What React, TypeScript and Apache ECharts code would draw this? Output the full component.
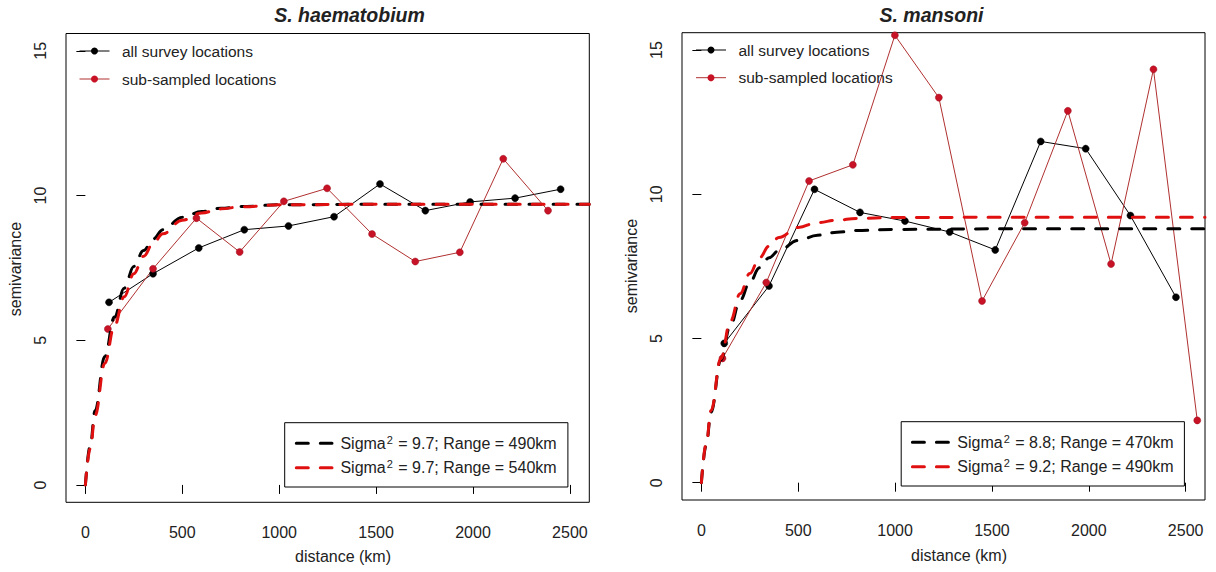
import React, { useEffect, useRef } from "react";
import * as echarts from "echarts";

// ---------- data ----------
const X_TICKS = [0, 500, 1000, 1500, 2000, 2500];
const Y_TICKS = [0, 5, 10, 15];

// S. haematobium – empirical semivariograms
const haemAllDist = [122, 349, 585, 820, 1048, 1283, 1520, 1754, 1985, 2217, 2452];
const haemAllGamma = [6.31, 7.3, 8.19, 8.82, 8.95, 9.27, 10.4, 9.48, 9.78, 9.91, 10.22];
const haemSubDist = [116, 349, 573, 796, 1024, 1247, 1479, 1702, 1932, 2156, 2387];
const haemSubGamma = [5.39, 7.47, 9.22, 8.05, 9.8, 10.25, 8.67, 7.72, 8.04, 11.27, 9.48];

// S. haematobium – fitted model curves
const haemFitAllDist = [0, 25, 50, 100, 150, 200, 250, 300, 350, 400, 500, 600, 700, 800, 1000, 1500, 2600];
const haemFitAllGamma = [0, 1.35, 2.56, 4.44, 5.8, 6.8, 7.55, 8.1, 8.5, 8.82, 9.25, 9.45, 9.56, 9.62, 9.68, 9.7, 9.7];
const haemFitSubDist = [0, 25, 50, 100, 150, 200, 250, 300, 350, 400, 500, 600, 700, 800, 1000, 1500, 2600];
const haemFitSubGamma = [0, 1.25, 2.4, 4.2, 5.5, 6.5, 7.3, 7.9, 8.35, 8.68, 9.15, 9.4, 9.54, 9.61, 9.68, 9.7, 9.7];

// S. mansoni – empirical semivariograms
const manAllDist = [118, 349, 584, 819, 1051, 1282, 1517, 1752, 1984, 2215, 2450];
const manAllGamma = [4.83, 6.82, 10.17, 9.37, 9.07, 8.69, 8.07, 11.83, 11.58, 9.26, 6.43];
const manSubDist = [109, 335, 556, 782, 999, 1226, 1449, 1669, 1892, 2115, 2334, 2560];
const manSubGamma = [4.31, 6.94, 10.46, 11.02, 15.51, 13.35, 6.3, 9.01, 12.89, 7.58, 14.33, 2.16];

// S. mansoni – fitted model curves
const manFitAllDist = [0, 25, 50, 100, 150, 200, 250, 300, 350, 400, 500, 600, 700, 800, 1000, 1500, 2600];
const manFitAllGamma = [0, 1.3, 2.45, 4.25, 5.45, 6.32, 6.95, 7.45, 7.8, 8.05, 8.4, 8.58, 8.68, 8.74, 8.78, 8.8, 8.8];
const manFitSubDist = [0, 25, 50, 100, 150, 200, 250, 300, 350, 400, 500, 600, 700, 800, 1000, 1500, 2600];
const manFitSubGamma = [0, 1.35, 2.5, 4.3, 5.6, 6.55, 7.25, 7.8, 8.2, 8.5, 8.85, 9.02, 9.1, 9.16, 9.19, 9.2, 9.2];

const panelTitles = ["S. haematobium", "S. mansoni"];
const pointLegend = ["all survey locations", "sub-sampled locations"];
const haemFitLabels = [
  { sigma: "9.7", range: "490km" },
  { sigma: "9.7", range: "540km" },
];
const manFitLabels = [
  { sigma: "8.8", range: "470km" },
  { sigma: "9.2", range: "490km" },
];

// ---------- styling ----------
const FONT = "'Liberation Sans', Arial, Helvetica, sans-serif";
const TEXT = "#222";
const BLACK = "#000";
const RED_PT = "#c81226";
const RED_LINE = "#b03030";
const RED_DASH = "#e01010";

const zip = (xs: number[], ys: number[]) => xs.map((x, i) => [x, ys[i]]);

function xAxisFor(gridIndex: number) {
  return {
    gridIndex,
    type: "value",
    min: -100,
    max: 2600,
    axisLine: { show: false },
    splitLine: { show: false },
    axisTick: {
      show: true,
      length: 9,
      customValues: X_TICKS,
      lineStyle: { color: BLACK, width: 1 },
    },
    axisLabel: {
      customValues: X_TICKS,
      formatter: (v: number) => String(v),
      fontSize: 16,
      fontFamily: FONT,
      color: TEXT,
      margin: 22,
    },
  };
}

function yAxisFor(gridIndex: number) {
  return {
    gridIndex,
    type: "value",
    min: -0.6,
    max: 15.6,
    axisLine: { show: false },
    splitLine: { show: false },
    axisTick: {
      show: true,
      length: 9,
      customValues: Y_TICKS,
      lineStyle: { color: BLACK, width: 1 },
    },
    axisLabel: {
      customValues: Y_TICKS,
      formatter: (v: number) => String(v),
      rotate: 90,
      fontSize: 16,
      fontFamily: FONT,
      color: TEXT,
      margin: 18,
    },
  };
}

function pointSeries(idx: number, name: string, xs: number[], ys: number[], isRed: boolean) {
  return {
    name,
    type: "line",
    xAxisIndex: idx,
    yAxisIndex: idx,
    data: zip(xs, ys),
    symbol: "circle",
    symbolSize: 7,
    showSymbol: true,
    lineStyle: { color: isRed ? RED_LINE : BLACK, width: 1 },
    itemStyle: { color: isRed ? RED_PT : BLACK, borderColor: isRed ? "#9a1020" : BLACK, borderWidth: 0.5 },
    z: 2,
  };
}

function fitSeries(idx: number, name: string, xs: number[], ys: number[], isRed: boolean) {
  return {
    name,
    type: "line",
    xAxisIndex: idx,
    yAxisIndex: idx,
    data: zip(xs, ys),
    showSymbol: false,
    smooth: 0.4,
    smoothMonotone: "x",
    lineStyle: { color: isRed ? RED_DASH : BLACK, width: 3, type: [12, 12], cap: "round" },
    z: 3,
  };
}

function pointLegendGraphics(lineX1: number, lineX2: number, textX: number, ys: number[]) {
  const out: any[] = [];
  [BLACK, RED_PT].forEach((c, i) => {
    const y = ys[i];
    out.push({
      type: "line",
      z: 100,
      shape: { x1: lineX1, y1: y, x2: lineX2, y2: y },
      style: { stroke: i === 0 ? BLACK : RED_LINE, lineWidth: 1 },
    });
    out.push({
      type: "circle",
      z: 101,
      shape: { cx: (lineX1 + lineX2) / 2, cy: y, r: 3.5 },
      style: { fill: c },
    });
    out.push({
      type: "text",
      z: 101,
      x: textX,
      y,
      style: {
        text: pointLegend[i],
        fontSize: 15.5,
        fontFamily: FONT,
        fill: TEXT,
        verticalAlign: "middle",
        align: "left",
      },
    });
  });
  return out;
}

function fitLegendGraphics(
  box: { x: number; y: number; w: number; h: number },
  lineX1: number,
  lineX2: number,
  textX: number,
  ys: number[],
  labels: { sigma: string; range: string }[]
) {
  const out: any[] = [
    {
      type: "rect",
      z: 100,
      shape: { x: box.x, y: box.y, width: box.w, height: box.h },
      style: { fill: "#fff", stroke: BLACK, lineWidth: 1 },
    },
  ];
  [BLACK, RED_DASH].forEach((c, i) => {
    const y = ys[i];
    out.push({
      type: "line",
      z: 101,
      shape: { x1: lineX1, y1: y, x2: lineX2, y2: y },
      style: { stroke: c, lineWidth: 3, lineDash: [12, 12], lineCap: "round" },
    });
    out.push({
      type: "text",
      z: 101,
      x: textX,
      y,
      style: {
        text: `Sigma{sup|2} = ${labels[i].sigma}; Range = ${labels[i].range}`,
        fontSize: 16,
        fontFamily: FONT,
        fill: TEXT,
        verticalAlign: "middle",
        align: "left",
        lineHeight: 18,
        rich: {
          sup: { fontSize: 11, fontFamily: FONT, fill: TEXT, verticalAlign: "top", lineHeight: 18, padding: [0, 1, 6, 1] },
        },
      },
    });
  });
  return out;
}

function plainText(text: string, x: number, y: number, size: number, opts: any = {}) {
  return {
    type: "text",
    z: 100,
    x,
    y,
    rotation: opts.rotation || 0,
    style: {
      text,
      fontSize: size,
      fontFamily: FONT,
      fontWeight: opts.bold ? "bold" : "normal",
      fontStyle: opts.italic ? "italic" : "normal",
      fill: TEXT,
      align: "center",
      verticalAlign: "middle",
    },
  };
}

export default function App() {
  const ref = useRef<HTMLDivElement>(null);

  useEffect(() => {
    if (!ref.current) return;
    const chart = echarts.init(ref.current, null, { renderer: "svg" });

    const option: any = {
      animation: false,
      backgroundColor: "#fff",
      grid: [
        {
          left: 66,
          top: 33.5,
          width: 523.3,
          height: 468.8,
          show: true,
          borderColor: BLACK,
          borderWidth: 1,
          backgroundColor: "transparent",
          outerBoundsMode: "none",
        },
        {
          left: 682,
          top: 32.7,
          width: 523,
          height: 467.3,
          show: true,
          borderColor: BLACK,
          borderWidth: 1,
          backgroundColor: "transparent",
          outerBoundsMode: "none",
        },
      ],
      xAxis: [xAxisFor(0), xAxisFor(1)],
      yAxis: [yAxisFor(0), yAxisFor(1)],
      series: [
        pointSeries(0, "all survey locations", haemAllDist, haemAllGamma, false),
        pointSeries(0, "sub-sampled locations", haemSubDist, haemSubGamma, true),
        fitSeries(0, "fit all", haemFitAllDist, haemFitAllGamma, false),
        fitSeries(0, "fit sub", haemFitSubDist, haemFitSubGamma, true),
        pointSeries(1, "all survey locations", manAllDist, manAllGamma, false),
        pointSeries(1, "sub-sampled locations", manSubDist, manSubGamma, true),
        fitSeries(1, "fit all", manFitAllDist, manFitAllGamma, false),
        fitSeries(1, "fit sub", manFitSubDist, manFitSubGamma, true),
      ],
      graphic: [
        plainText(panelTitles[0], 349.5, 14.5, 19.5, { bold: true, italic: true }),
        plainText(panelTitles[1], 931.5, 14.5, 19.5, { bold: true, italic: true }),
        plainText("distance (km)", 343, 556.5, 16),
        plainText("distance (km)", 959, 555.5, 16),
        plainText("semivariance", 15, 269, 16, { rotation: Math.PI / 2 }),
        plainText("semivariance", 631, 266, 16, { rotation: Math.PI / 2 }),
        ...pointLegendGraphics(79.5, 109.5, 122, [51, 79]),
        ...pointLegendGraphics(696, 726, 738.5, [50, 77.7]),
        ...fitLegendGraphics({ x: 284.7, y: 422.7, w: 283.2, h: 64.3 }, 296.3, 332, 340.4, [443.3, 467.7], haemFitLabels),
        ...fitLegendGraphics({ x: 901.2, y: 421.7, w: 283.2, h: 64.3 }, 912.4, 948.9, 957.3, [442.3, 466.7], manFitLabels),
      ],
    };

    chart.setOption(option);
    return () => chart.dispose();
  }, []);

  return (
    <div
      ref={ref}
      style={{ position: "fixed", left: 0, top: 0, width: 1216, height: 572, background: "#fff" }}
    />
  );
}
